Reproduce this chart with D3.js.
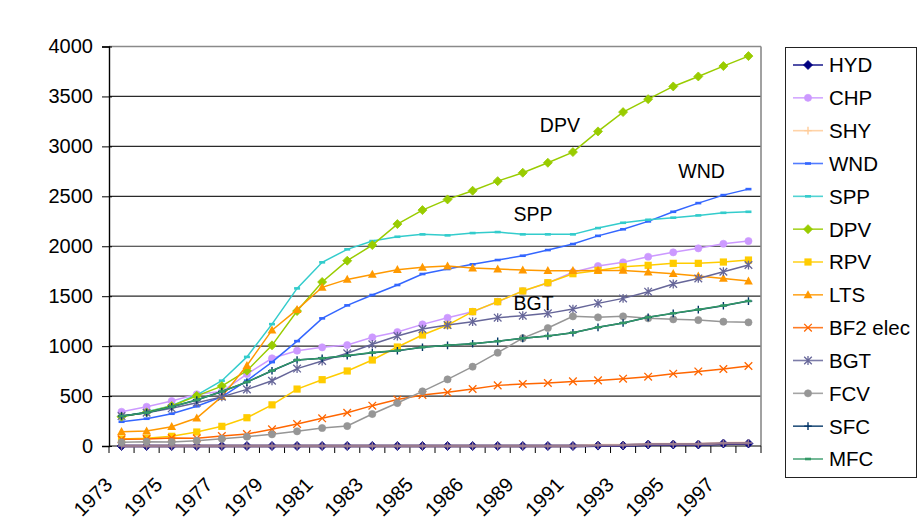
<!DOCTYPE html>
<html>
<head>
<meta charset="utf-8">
<script src="https://cdn.jsdelivr.net/npm/d3@7"></script>
<style>
  html, body { margin: 0; padding: 0; background: #fff; }
  svg { display: block; }
  text { font-family: "Liberation Sans", Arial, sans-serif; fill: #000; }
</style>
</head>
<body>
<svg id="chart" width="921" height="523"></svg>
<script>
// Category labels (one per year slot)
const years = ["1973","1974","1975","1976","1977","1978","1979","1980","1981","1982",
  "1983","1984","1985","1986","1986","1988","1989","1990","1991","1992","1993","1994",
  "1995","1996","1997","1998"];

const yTicks = [0, 500, 1000, 1500, 2000, 2500, 3000, 3500, 4000];

// Series values
const HYD = [0,0,0,0,0,0,0,0,0,0,0,0,0,0,0,0,0,0,0,4,5,15,15,15,25,25];
const CHP = [343,393,450,518,545,720,878,954,988,1011,1088,1141,1218,1284,1345,1445,1551,1632,1740,1802,1839,1895,1939,1979,2025,2052];
const SHY = [0,0,0,0,0,0,0,0,0,0,0,0,0,0,0,0,0,0,0,8,8,18,18,20,28,30];
const WND = [243,273,323,398,493,654,840,1050,1278,1408,1512,1612,1722,1772,1819,1862,1905,1962,2022,2104,2170,2249,2345,2432,2512,2572];
const SPP = [293,343,404,510,654,892,1220,1578,1839,1969,2052,2095,2119,2109,2132,2142,2119,2119,2119,2182,2235,2265,2286,2309,2335,2345];
const DPV = [293,337,400,502,600,754,1008,1351,1642,1855,2012,2222,2362,2469,2556,2652,2736,2836,2943,3150,3343,3473,3600,3700,3804,3904];
const RPV = [70,77,97,140,197,283,412,570,664,751,861,991,1111,1211,1345,1445,1552,1635,1725,1758,1795,1809,1829,1829,1842,1862];
const LTS = [143,150,193,280,494,806,1160,1365,1589,1668,1718,1765,1789,1802,1782,1772,1762,1755,1755,1758,1758,1742,1725,1702,1678,1652];
const BF2 = [67,70,80,77,100,120,167,220,277,333,404,465,511,537,571,607,621,631,647,657,674,694,724,747,771,801];
const BGT = [300,333,377,433,492,567,653,775,851,928,1018,1101,1171,1211,1245,1285,1305,1328,1371,1428,1478,1545,1622,1678,1745,1812];
const FCV = [37,43,40,53,73,93,117,147,180,200,320,430,547,667,794,934,1080,1181,1298,1288,1298,1278,1268,1261,1245,1238];
const SFC = [300,333,393,460,545,640,754,861,878,904,934,954,988,1008,1024,1048,1078,1101,1134,1188,1231,1288,1328,1365,1405,1451];
const MFC = [300,334,394,461,546,641,755,862,879,905,935,955,989,1009,1025,1049,1079,1102,1135,1189,1232,1289,1329,1366,1406,1452];

const seriesList = [
  { name: "HYD", values: HYD, color: "#000080", marker: "diamond" },
  { name: "CHP", values: CHP, color: "#CC99FF", marker: "circle" },
  { name: "SHY", values: SHY, color: "#FFCC99", marker: "plus", opacity: 0.6 },
  { name: "WND", values: WND, color: "#3366FF", marker: "dash" },
  { name: "SPP", values: SPP, color: "#33CCCC", marker: "dash" },
  { name: "DPV", values: DPV, color: "#99CC00", marker: "diamond" },
  { name: "RPV", values: RPV, color: "#FFCC00", marker: "square" },
  { name: "LTS", values: LTS, color: "#FF9900", marker: "triangle" },
  { name: "BF2 elec", values: BF2, color: "#FF6600", marker: "x" },
  { name: "BGT", values: BGT, color: "#666699", marker: "star" },
  { name: "FCV", values: FCV, color: "#969696", marker: "circle" },
  { name: "SFC", values: SFC, color: "#003366", marker: "plus" },
  { name: "MFC", values: MFC, color: "#339966", marker: "dash" }
];

// In-chart series labels, placed by (fractional) category slot and value
const notes = [
  { text: "DPV", cat: 17.48, value: 3140 },
  { text: "WND", cat: 23.13, value: 2683 },
  { text: "SPP", cat: 16.41, value: 2253 },
  { text: "BGT", cat: 16.43, value: 1360 }
];

const svg = d3.select("#chart");
const plot = { left: 109, right: 761, top: 46.5, bottom: 446 };

const x = d3.scaleBand().domain(d3.range(years.length)).range([plot.left, plot.right]).padding(0);
const y = d3.scaleLinear().domain([0, 4000]).range([plot.bottom, plot.top]);
const cx = i => x(i) + x.bandwidth() / 2;
const slotX = d3.scaleLinear().domain([0, years.length - 1]).range([cx(0), cx(years.length - 1)]);

// Horizontal gridlines
svg.append("g").selectAll("line").data(yTicks.filter(t => t > 0)).join("line")
  .attr("x1", plot.left).attr("x2", plot.right)
  .attr("y1", d => y(d)).attr("y2", d => y(d))
  .attr("stroke", d => d === 4000 ? "#8a8a8a" : "#2a2a2a")
  .attr("stroke-width", d => d === 4000 ? 1.6 : 1.2);

// Plot-area right border
svg.append("line")
  .attr("x1", plot.right).attr("x2", plot.right)
  .attr("y1", plot.top).attr("y2", plot.bottom)
  .attr("stroke", "#8a8a8a").attr("stroke-width", 1.6);

// Y axis
const yAxis = d3.axisLeft(y).tickValues(yTicks).tickSize(7).tickPadding(8).tickFormat(d3.format("d"));
const gy = svg.append("g").attr("transform", `translate(${plot.left},0)`).call(yAxis);
gy.select(".domain").attr("stroke", "#000").attr("stroke-width", 1.4);
gy.selectAll(".tick line").attr("stroke", "#000").attr("x2", -7).attr("x1", 3);
gy.selectAll(".tick text")
  .attr("font-size", 20).attr("font-family", "Liberation Sans, Arial, sans-serif")
  .attr("x", -16);

// X axis: ticks at category boundaries, labels on every other category
const gx = svg.append("g");
gx.append("line")
  .attr("x1", plot.left).attr("x2", plot.right)
  .attr("y1", plot.bottom).attr("y2", plot.bottom)
  .attr("stroke", "#000").attr("stroke-width", 1.2);
gx.selectAll("line.tick").data(d3.range(years.length + 1)).join("line")
  .attr("class", "tick")
  .attr("x1", i => plot.left + i * x.bandwidth()).attr("x2", i => plot.left + i * x.bandwidth())
  .attr("y1", plot.bottom).attr("y2", plot.bottom + 7)
  .attr("stroke", "#000").attr("stroke-width", 1);
gx.selectAll("text").data(d3.range(0, years.length, 2)).join("text")
  .attr("text-anchor", "end")
  .attr("font-size", 20)
  .attr("transform", i => `translate(${cx(i) - 8},486) rotate(-45)`)
  .text(i => years[i]);

// Marker shapes
function drawMarker(g, type, color, px, py) {
  const s = 3.8;
  switch (type) {
    case "diamond":
      g.append("path").attr("d", `M${px},${py - 4.5}L${px + 4.5},${py}L${px},${py + 4.5}L${px - 4.5},${py}Z`)
        .attr("fill", color).attr("stroke", color).attr("stroke-width", 0.8);
      break;
    case "circle":
      g.append("circle").attr("cx", px).attr("cy", py).attr("r", 3.6).attr("fill", color).attr("stroke", color).attr("stroke-width", 0.6);
      break;
    case "square":
      g.append("rect").attr("x", px - 3.6).attr("y", py - 3.6).attr("width", 7.2).attr("height", 7.2).attr("fill", color);
      break;
    case "triangle":
      g.append("path").attr("d", `M${px},${py - 4.6}L${px + 4.4},${py + 3.4}L${px - 4.4},${py + 3.4}Z`).attr("fill", color);
      break;
    case "dash":
      g.append("rect").attr("x", px - 3).attr("y", py - 1.3).attr("width", 6).attr("height", 2.6).attr("fill", color);
      break;
    case "plus":
      g.append("path").attr("d", `M${px - s},${py}H${px + s}M${px},${py - s}V${py + s}`)
        .attr("stroke", color).attr("stroke-width", 1.4).attr("fill", "none");
      break;
    case "x":
      g.append("path").attr("d", `M${px - s},${py - s}L${px + s},${py + s}M${px - s},${py + s}L${px + s},${py - s}`)
        .attr("stroke", color).attr("stroke-width", 1.3).attr("fill", "none");
      break;
    case "star":
      g.append("path").attr("d", `M${px - s},${py - s}L${px + s},${py + s}M${px - s},${py + s}L${px + s},${py - s}M${px},${py - s - 0.6}V${py + s + 0.6}`)
        .attr("stroke", color).attr("stroke-width", 1.3).attr("fill", "none");
      break;
  }
}

// Series lines and markers
const line = d3.line().x((d, i) => cx(i)).y(d => y(d));
const gSeries = svg.append("g");
seriesList.forEach(s => {
  const g = gSeries.append("g").attr("opacity", s.opacity || 1);
  const zeroLine = s.name === "HYD" || s.name === "SHY";
  g.append("path").datum(s.values).attr("d", line)
    .attr("fill", "none").attr("stroke", s.color).attr("stroke-width", zeroLine ? 2.8 : 1.5);
  s.values.forEach((v, i) => drawMarker(g, s.marker, s.color, cx(i), y(v)));
});

// Series labels inside the plot
svg.append("g").selectAll("text").data(notes).join("text")
  .attr("x", d => slotX(d.cat)).attr("y", d => y(d.value))
  .attr("text-anchor", "middle").attr("font-size", 19.5)
  .text(d => d.text);

// Legend
const legend = svg.append("g");
legend.append("rect").attr("x", 785.5).attr("y", 47.5).attr("width", 131).attr("height", 430)
  .attr("fill", "#fff").attr("stroke", "#222").attr("stroke-width", 1);
const rowY = d3.scaleLinear().domain([0, seriesList.length - 1]).range([65, 459]);
seriesList.forEach((s, i) => {
  const g = legend.append("g");
  const ly = rowY(i);
  g.append("line").attr("x1", 793).attr("x2", 823).attr("y1", ly).attr("y2", ly)
    .attr("stroke", s.color).attr("stroke-width", 1.6).attr("opacity", 0.85);
  drawMarker(g, s.marker, s.color, 808, ly);
  g.append("text").attr("x", 829).attr("y", ly).attr("dy", "0.36em")
    .attr("font-size", 20.5).text(s.name);
});
</script>
</body>
</html>
